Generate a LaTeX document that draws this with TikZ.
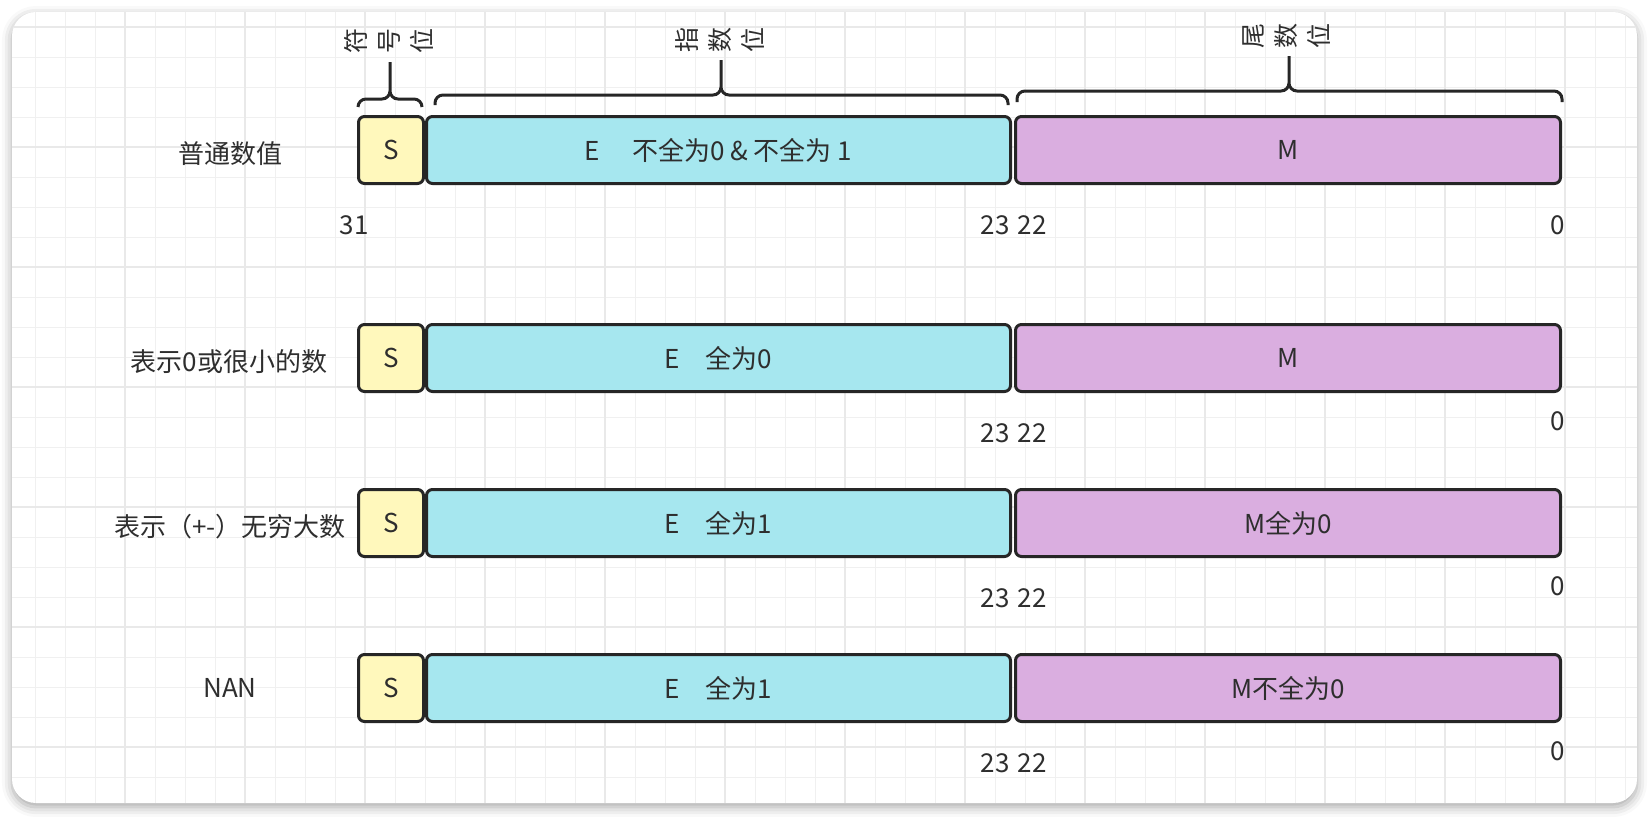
\documentclass[tikz,border=0pt]{standalone}
\usepackage{fontspec}
\setmainfont{Noto Sans CJK SC}
\usetikzlibrary{positioning,shadows.blur}

\definecolor{signfill}{HTML}{FFF8BC}
\definecolor{expfill}{HTML}{A6E7EF}
\definecolor{manfill}{HTML}{DAAEE0}
\definecolor{ink}{HTML}{262626}
\definecolor{txt}{HTML}{2E2E2E}

\begin{document}
\begin{tikzpicture}[
    x=0.5pt, y=-0.5pt,
    font={\fontsize{13}{15}\selectfont}, text=txt,
    field/.style={draw=ink, line width=1.5pt, rounded corners=3pt,
        minimum height=33.5pt, inner sep=0pt},
    sign/.style={field, fill=signfill, minimum width=32.5pt},
    expo/.style={field, fill=expfill, minimum width=292pt},
    mant/.style={field, fill=manfill, minimum width=272.5pt},
    kind/.style={inner sep=0pt},
    bitno/.style={inner sep=0pt, font={\fontsize{13}{15}\selectfont}},
    curly/.style={draw=ink, line width=1.5pt, rounded corners=4pt},
    part/.style={rotate=90, align=center, inner sep=0pt,
        font={\fontsize{12.5}{16.5}\selectfont}},
    minorgrid/.style={draw=black!6, line width=0.5pt},
    majorgrid/.style={draw=black!8.5, line width=0.75pt},
    ]

    \useasboundingbox (0,0) rectangle (1650,816);

    % Card with shadow
    \fill[white, rounded corners=12pt, blur shadow={shadow xshift=0pt,
        shadow yshift=-2pt, shadow blur radius=5pt, shadow opacity=35}]
        (12,12) rectangle (1637,803);

    % Grid paper
    \begin{scope}
        \clip[rounded corners=12pt] (12,12) rectangle (1637,803);
        \foreach \gx in {35,65,...,1625} \draw[minorgrid] (\gx,12) -- (\gx,803);
        \foreach \gy in {27,57,...,777} \draw[minorgrid] (12,\gy) -- (1637,\gy);
        \foreach \gx in {125,245,...,1565} \draw[majorgrid] (\gx,12) -- (\gx,803);
        \foreach \gy in {27,147,...,747} \draw[majorgrid] (12,\gy) -- (1637,\gy);
    \end{scope}

    % Braces and their labels
    \draw[curly] (358,107) |- (390,99) -- (390,62)
                 (422,107) |- (390,99) -- (390,62);
    \draw[curly] (435,105) |- (721,95) -- (721,60)
                 (1008,105) |- (721,95) -- (721,60);
    \draw[curly] (1017,102) |- (1289,91) -- (1289,56)
                 (1562,102) |- (1289,91) -- (1289,56);
    \node[part] (psign) at (389,41) {符\\号\\位};
    \node[part] (pexp) at (720,40) {指\\数\\位};
    \node[part] (pman) at (1287,36) {尾\\数\\位};

    \begin{scope}[shift={(0,0)}]
        \node[sign] (s1) at (391,150) {S};
        \node[expo, right=0pt of s1] (e1) {E\hspace{16pt}不全为0 \& 不全为 1};
        \node[mant, right=1pt of e1] (m1) {M};
        \node[kind] (k1) at (230,154) {普通数值};
        \node[bitno] (b31) at (354,225) {31};
        \node[bitno] (b23a) at (995,225) {23};
        \node[bitno] (b22a) at (1032,225) {22};
        \node[bitno] (b0a) at (1558,225) {0};
    \end{scope}

    \begin{scope}[shift={(0,208)}]
        \node[sign] (s2) at (391,150) {S};
        \node[expo, right=0pt of s2] (e2) {E\hspace{13pt}全为0};
        \node[mant, right=1pt of e2] (m2) {M};
        \node[kind] (k2) at (229,154) {表示0或很小的数};
        \node[bitno] (b23b) at (995,225) {23};
        \node[bitno] (b22b) at (1032,225) {22};
        \node[bitno] (b0b) at (1558,213) {0};
    \end{scope}

    \begin{scope}[shift={(0,373)}]
        \node[sign] (s3) at (391,150) {S};
        \node[expo, right=0pt of s3] (e3) {E\hspace{13pt}全为1};
        \node[mant, right=1pt of e3] (m3) {M全为0};
        \node[kind] (k3) at (230,154) {表示（+-）无穷大数};
        \node[bitno] (b23c) at (995,225) {23};
        \node[bitno] (b22c) at (1032,225) {22};
        \node[bitno] (b0c) at (1558,213) {0};
    \end{scope}

    \begin{scope}[shift={(0,538)}]
        \node[sign] (s4) at (391,150) {S};
        \node[expo, right=0pt of s4] (e4) {E\hspace{13pt}全为1};
        \node[mant, right=1pt of e4] (m4) {M不全为0};
        \node[kind] (k4) at (230,150) {NAN};
        \node[bitno] (b23d) at (995,225) {23};
        \node[bitno] (b22d) at (1032,225) {22};
        \node[bitno] (b0d) at (1558,213) {0};
    \end{scope}
\end{tikzpicture}
\end{document}
